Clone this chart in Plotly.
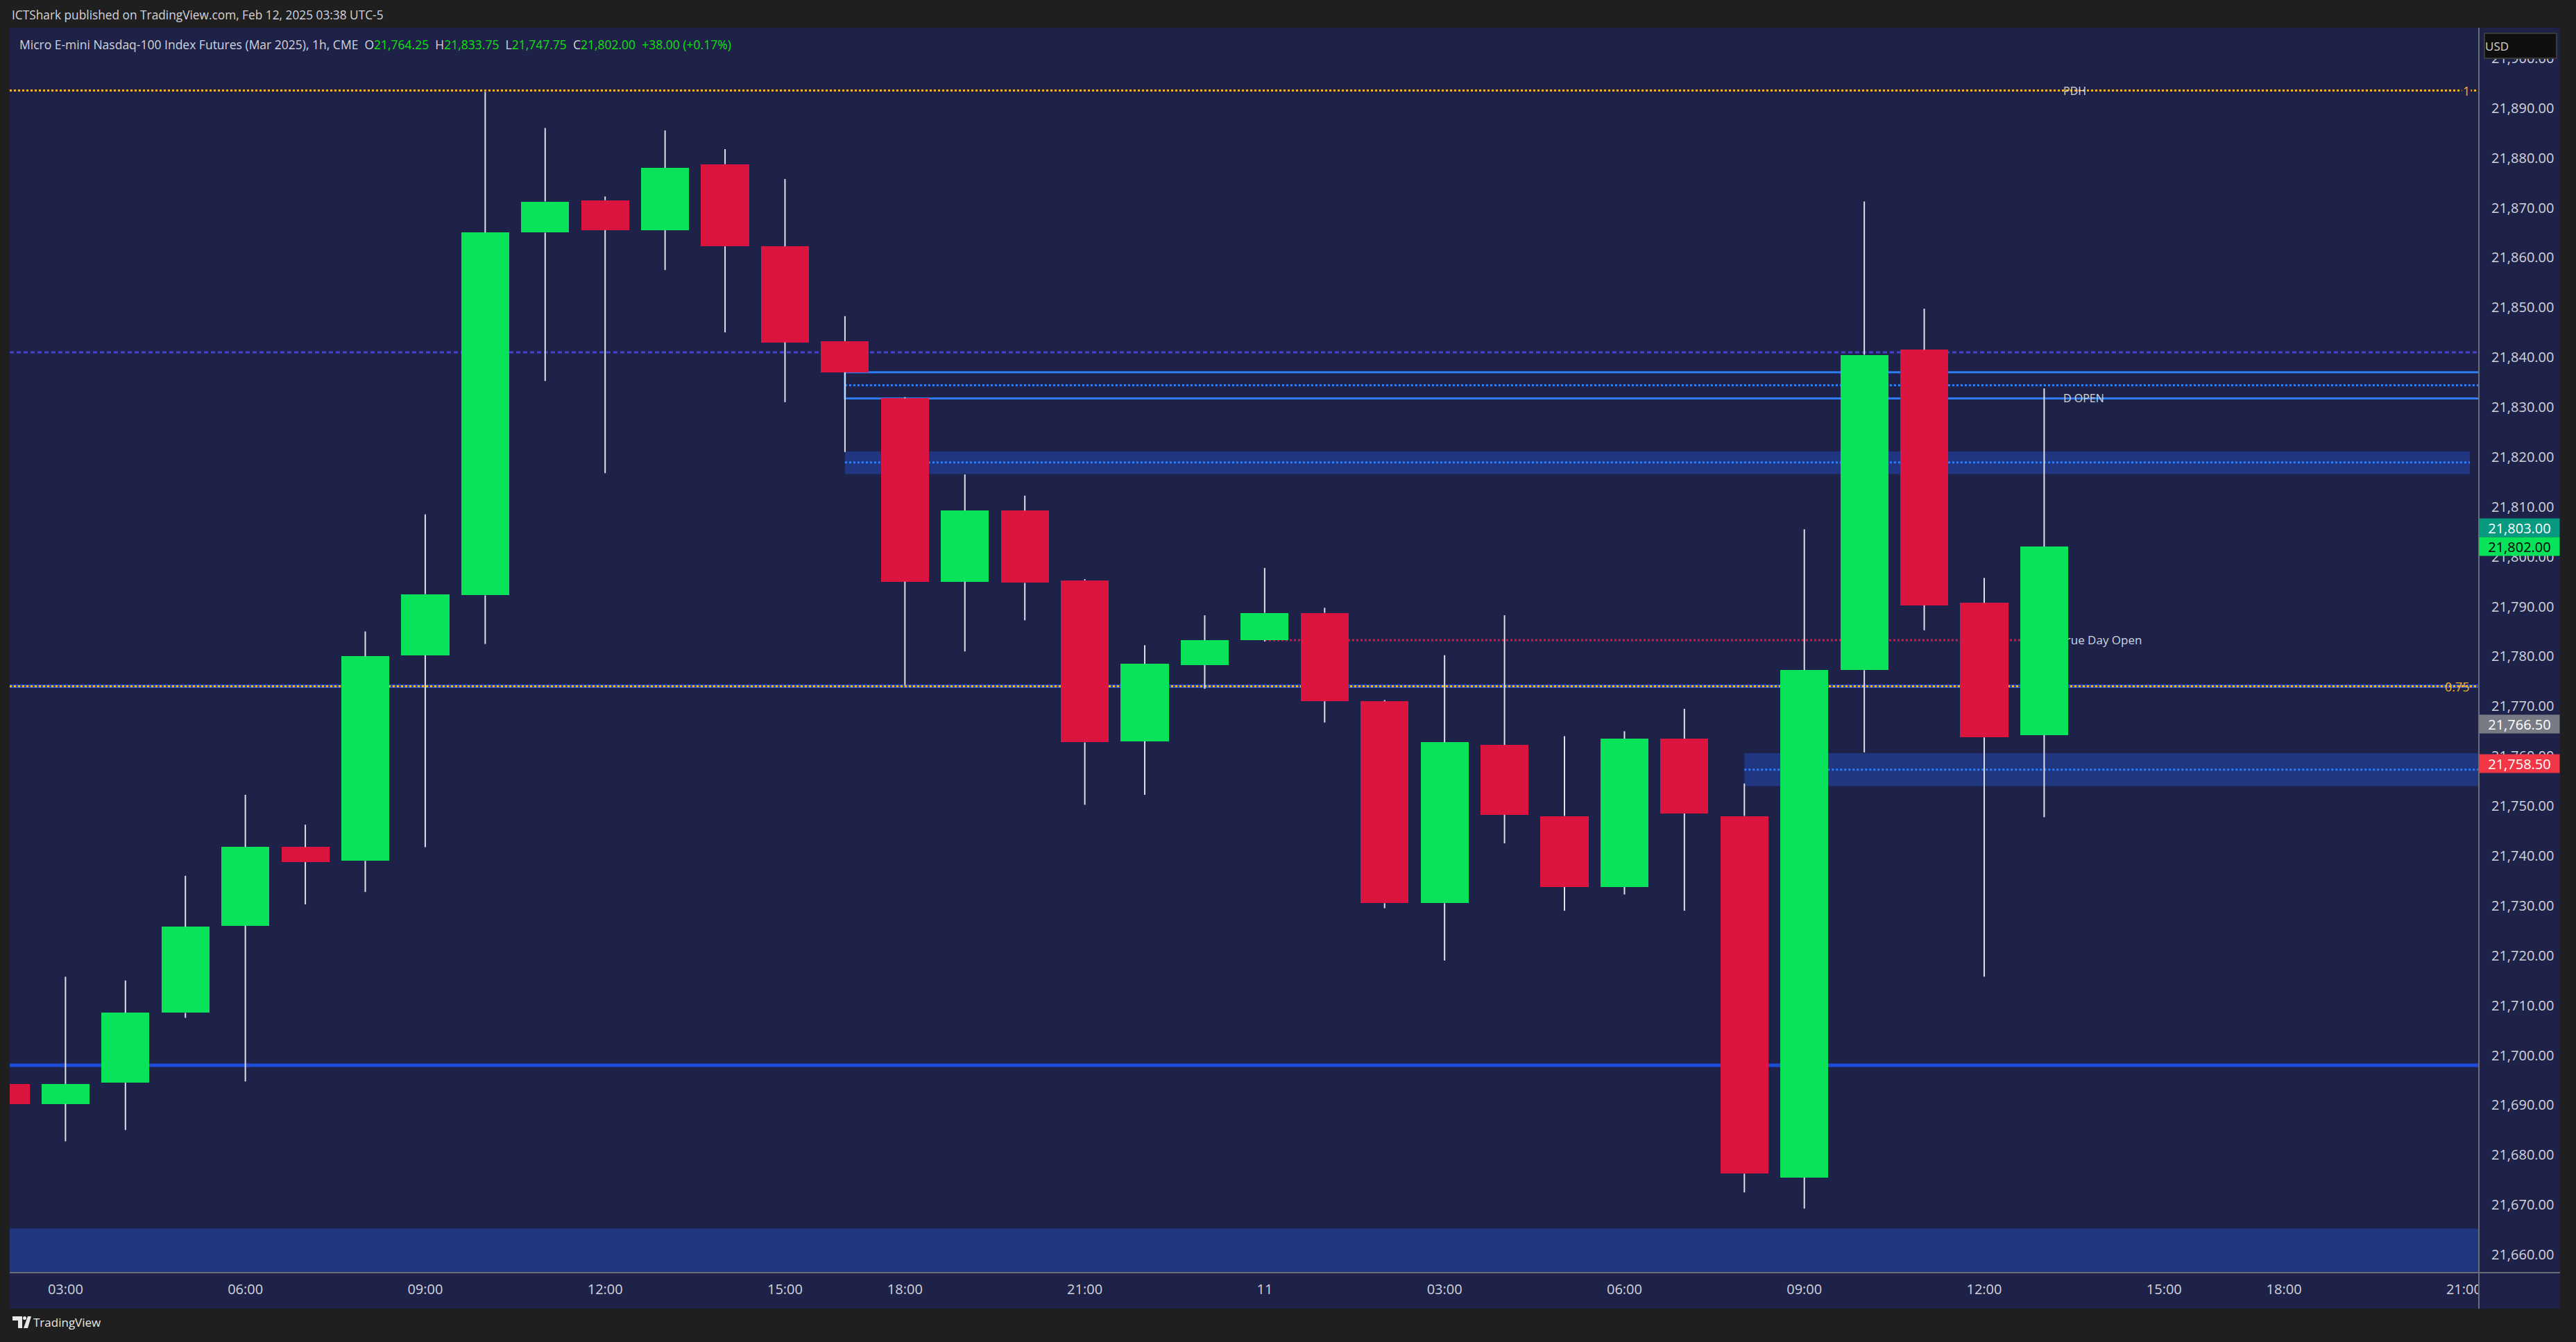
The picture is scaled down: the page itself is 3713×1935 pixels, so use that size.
import plotly.graph_objects as go

# ---------------- data ----------------
bar_labels = ["02:00", "03:00", "04:00", "05:00", "06:00", "07:00", "08:00", "09:00", "10:00", "11:00",
              "12:00", "13:00", "14:00", "15:00", "16:00", "18:00", "19:00", "20:00", "21:00", "22:00",
              "23:00", "00:00", "01:00", "02:00", "03:00", "04:00", "05:00", "06:00", "07:00", "08:00",
              "09:00", "10:00", "11:00", "12:00", "13:00"]
opens = [21694.25, 21690.25, 21694.5, 21708.5, 21726.0, 21741.75, 21739.0, 21780.25, 21792.25, 21865.0,
         21871.5, 21865.5, 21878.75, 21862.25, 21843.25, 21831.75, 21795.0, 21809.25, 21795.25, 21763.0,
         21778.25, 21783.25, 21788.75, 21771.0, 21730.5, 21762.25, 21748.0, 21733.75, 21763.5, 21748.0,
         21675.5, 21777.25, 21841.5, 21790.75, 21764.25]
highs = [21695.5, 21715.75, 21715.0, 21736.0, 21752.25, 21746.25, 21785.0, 21808.5, 21893.25, 21886.0,
         21872.25, 21885.5, 21881.75, 21875.75, 21848.25, 21832.0, 21816.5, 21812.25, 21795.5, 21782.25,
         21788.25, 21797.75, 21789.75, 21771.25, 21780.25, 21788.25, 21764.0, 21765.0, 21769.5, 21754.5,
         21805.5, 21871.25, 21849.75, 21795.75, 21833.75]
lows = [21689.0, 21682.75, 21685.0, 21707.5, 21694.75, 21730.25, 21732.75, 21741.75, 21782.5, 21835.25,
        21816.75, 21857.5, 21845.0, 21831.0, 21821.0, 21774.25, 21781.0, 21787.25, 21750.25, 21752.25,
        21773.5, 21783.0, 21766.75, 21729.5, 21719.0, 21742.5, 21729.0, 21732.25, 21729.0, 21672.5,
        21669.25, 21760.75, 21785.25, 21715.75, 21747.75]
closes = [21690.25, 21694.25, 21708.5, 21725.75, 21741.75, 21738.75, 21780.0, 21792.5, 21865.0, 21871.25,
          21865.5, 21878.0, 21862.25, 21843.0, 21837.0, 21795.0, 21809.25, 21794.75, 21762.75, 21778.5,
          21783.25, 21788.75, 21771.0, 21730.5, 21762.75, 21748.25, 21733.75, 21763.5, 21748.5, 21676.25,
          21777.25, 21840.5, 21790.25, 21763.75, 21802.0]

x_tick_pos = [1, 4, 7, 10, 13, 15, 18, 21, 24, 27, 30, 33, 36, 38, 41]
x_tick_text = ["03:00", "06:00", "09:00", "12:00", "15:00", "18:00", "21:00", "11",
               "03:00", "06:00", "09:00", "12:00", "15:00", "18:00", "21:00"]

# key levels
pdh = 21893.5
upper_dash = 21841.0
dopen_box = (21831.75, 21837.0)
dopen_mid = 21834.4
zone1 = (21816.6, 21821.1)
zone1_mid = 21818.9
true_day_open = 21783.25
fib_075 = 21774.0
zone2 = (21754.0, 21760.6)
zone2_mid = 21757.3
blue_level = 21698.0
bottom_zone_top = 21665.25

price_tags = [("21,803.00", 21802.0, "#089981", "#ffffff", 27),
              ("21,802.00", 21802.0, "#08e35a", "#000000", 0),
              ("21,766.50", 21766.5, "#787b86", "#ffffff", 0),
              ("21,758.50", 21758.5, "#f23645", "#ffffff", 0)]

header = "ICTShark published on TradingView.com, Feb 12, 2025 03:38 UTC-5"
symbol = "Micro E-mini Nasdaq-100 Index Futures (Mar 2025), 1h, CME"

# ---------------- geometry ----------------
W, H = 3713, 1935
ML, MT = 14, 40
PR, PB = 3573, 1835      # plot right / bottom in px
PANEL_R, PANEL_B = 3690, 1887
PW, PH = PR - ML, PB - MT
X_RANGE = [0.07, 41.25]
Y_RANGE = [21656.4, 21906.1]


def px(xp):
    return (xp - ML) / PW


def py(yp):
    return 1 - (yp - MT) / PH


GREEN = "#08e35a"
RED = "#dc1440"
BG = "#1e2248"
ZONE = "#203680"
LBLUE = "#2f7df5"
DBLUE = "#1e4bd8"
ORANGE = "#f0b429"
TXT = "#d1d4dc"
FONT = "Open Sans"

fig = go.Figure()

# wicks (upper and lower parts, so they never cross the bodies)
wx, wy = [], []
for i, (o, h, l, c) in enumerate(zip(opens, highs, lows, closes)):
    top, bot = max(o, c), min(o, c)
    if h > top:
        wx += [i, i, None]
        wy += [top, h, None]
    if l < bot:
        wx += [i, i, None]
        wy += [l, bot, None]
fig.add_trace(go.Scatter(x=wx, y=wy, mode="lines", line=dict(color="#dfe1e8", width=2),
                         hoverinfo="skip", showlegend=False))

# bodies
bases = [min(o, c) for o, c in zip(opens, closes)]
heights = [abs(c - o) for o, c in zip(opens, closes)]
colors = [GREEN if c >= o else RED for o, c in zip(opens, closes)]
fig.add_trace(go.Bar(x=list(range(len(opens))), y=heights, base=bases, width=0.8,
                     marker=dict(color=colors, line=dict(width=0)),
                     hoverinfo="skip", showlegend=False))

shapes = []


def hline(y, x0, x1, color, width, dash="solid", xref="x", layer="below"):
    shapes.append(dict(type="line", xref=xref, yref="y", x0=x0, x1=x1, y0=y, y1=y,
                       line=dict(color=color, width=width, dash=dash), layer=layer))


# zones
shapes.append(dict(type="rect", xref="paper", yref="y", x0=0, x1=1, y0=Y_RANGE[0] - 5, y1=bottom_zone_top,
                   fillcolor=ZONE, line=dict(width=0), layer="below"))
shapes.append(dict(type="rect", xref="x", yref="y", x0=14, x1=41.1, y0=zone1[0], y1=zone1[1],
                   fillcolor=ZONE, line=dict(width=0), layer="below"))
hline(zone1_mid, 14, 41.1, LBLUE, 3, "dot")
shapes.append(dict(type="rect", xref="x", yref="y", x0=29, x1=X_RANGE[1], y0=zone2[0], y1=zone2[1],
                   fillcolor=ZONE, line=dict(width=0), layer="below"))
hline(zone2_mid, 29, X_RANGE[1], LBLUE, 3, "dot")

# D OPEN box
shapes.append(dict(type="rect", xref="x", yref="y", x0=14, x1=X_RANGE[1] + 0.2, y0=dopen_box[0], y1=dopen_box[1],
                   line=dict(color=LBLUE, width=3), fillcolor="rgba(0,0,0,0)", layer="below"))
hline(dopen_mid, 14, X_RANGE[1], LBLUE, 3, "dot")

# full width levels
hline(upper_dash, 0, 1, "#4340d2", 3, "6px,4px", xref="paper")
hline(pdh, 0, 1, ORANGE, 3, "dot", xref="paper")
hline(fib_075, 0, 1, DBLUE, 5, xref="paper")
hline(fib_075, 0, 1, ORANGE, 3, "dot", xref="paper")
hline(blue_level, 0, 1, DBLUE, 5, xref="paper")
hline(true_day_open, 21, 34, RED, 3, "dot")

# True Day Open label (below candles so the bar covers its first letter like the original)
shapes.append(dict(type="rect", xref="x", yref="y", x0=34.22, x1=37.5, y0=true_day_open - 2,
                   y1=true_day_open + 2, line=dict(width=0), fillcolor="rgba(0,0,0,0)", layer="below",
                   label=dict(text="True Day Open", textposition="middle left",
                              font=dict(family=FONT, size=17, color=TXT), padding=0)))

# axis panel backgrounds / separators (paper)
shapes.append(dict(type="rect", xref="paper", yref="paper", x0=1, x1=px(PANEL_R), y0=py(PANEL_B), y1=1,
                   fillcolor=BG, line=dict(width=0), layer="below"))
shapes.append(dict(type="rect", xref="paper", yref="paper", x0=0, x1=1, y0=py(PANEL_B), y1=0,
                   fillcolor=BG, line=dict(width=0), layer="below"))
# cover strip to clip last x label
shapes.append(dict(type="rect", xref="paper", yref="paper", x0=px(PR + 1), x1=px(PANEL_R), y0=py(PANEL_B), y1=py(PB + 1),
                   fillcolor=BG, line=dict(width=0), layer="above"))
shapes.append(dict(type="line", xref="paper", yref="paper", x0=1, x1=1, y0=py(PANEL_B), y1=1,
                   line=dict(color="#6a6d78", width=2), layer="above"))
shapes.append(dict(type="line", xref="paper", yref="paper", x0=0, x1=px(PANEL_R), y0=0, y1=0,
                   line=dict(color="#6a6d78", width=2), layer="above"))

# TradingView logo (simple glyph)
shapes.append(dict(type="path", xref="paper", yref="paper",
                   path=f"M {px(18)},{py(1898)} L {px(32)},{py(1898)} L {px(32)},{py(1915)} L {px(26)},{py(1915)} "
                        f"L {px(26)},{py(1904)} L {px(18)},{py(1904)} Z",
                   fillcolor="#e8e8e8", line=dict(width=0)))
shapes.append(dict(type="circle", xref="paper", yref="paper", x0=px(33), x1=px(38), y0=py(1903), y1=py(1898),
                   fillcolor="#e8e8e8", line=dict(width=0)))
shapes.append(dict(type="path", xref="paper", yref="paper",
                   path=f"M {px(40)},{py(1898)} L {px(45)},{py(1898)} L {px(40)},{py(1915)} L {px(34)},{py(1915)} Z",
                   fillcolor="#e8e8e8", line=dict(width=0)))

annotations = []
annotations.append(dict(xref="paper", yref="paper", x=px(15), y=py(21), xanchor="left", yanchor="middle",
                        text=header, showarrow=False, font=dict(family=FONT, size=17.3, color=TXT)))
g = "#11e011"
title_html = (f"{symbol}&nbsp;&nbsp;O<span style='color:{g}'>21,764.25</span>&nbsp;&nbsp;"
              f"H<span style='color:{g}'>21,833.75</span>&nbsp;&nbsp;L<span style='color:{g}'>21,747.75</span>&nbsp;&nbsp;"
              f"C<span style='color:{g}'>21,802.00</span>&nbsp;&nbsp;<span style='color:{g}'>+38.00 (+0.17%)</span>")
annotations.append(dict(xref="paper", yref="paper", x=px(26), y=py(64), xanchor="left", yanchor="middle",
                        text=title_html, showarrow=False, font=dict(family=FONT, size=17.5, color=TXT)))
annotations.append(dict(xref="paper", yref="paper", x=px(46), y=py(1906), xanchor="left", yanchor="middle",
                        text="TradingView", showarrow=False, font=dict(family=FONT, size=17, color="#e8e8e8")))

# level labels
annotations.append(dict(xref="x", yref="y", x=34.3, y=pdh, xanchor="left", yanchor="middle", text="PDH",
                        showarrow=False, font=dict(family=FONT, size=16, color=TXT)))
annotations.append(dict(xref="x", yref="y", x=34.3, y=dopen_box[0], xanchor="left", yanchor="middle",
                        text="D OPEN", showarrow=False, font=dict(family=FONT, size=16, color=TXT)))
annotations.append(dict(xref="paper", yref="y", x=px(3562), y=pdh, xanchor="right", yanchor="middle", text="1",
                        showarrow=False, bgcolor=BG, font=dict(family=FONT, size=18, color=ORANGE)))
annotations.append(dict(xref="paper", yref="y", x=px(3562), y=fib_075, xanchor="right", yanchor="middle",
                        text="0.75", showarrow=False, font=dict(family=FONT, size=18, color=ORANGE)))

# price tags
for txt, yv, bg, fc, ys in price_tags:
    annotations.append(dict(xref="paper", yref="y", x=1, y=yv, yshift=ys, xanchor="left", yanchor="middle",
                            text=txt, showarrow=False, bgcolor=bg, width=115, height=26, borderpad=0,
                            align="center", font=dict(family=FONT, size=20, color=fc)))
# USD box
annotations.append(dict(xref="paper", yref="paper", x=px(3580), y=py(66), xanchor="left", yanchor="middle",
                        text="USD", showarrow=False, bgcolor="#0f0f0f", bordercolor="#3a3a3a", borderwidth=2,
                        width=102, height=34, align="left", borderpad=0,
                        font=dict(family=FONT, size=17, color=TXT)))

fig.update_layout(
    width=W, height=H,
    margin=dict(l=ML, r=W - PR, t=MT, b=H - PB, pad=0),
    paper_bgcolor="#1f1f1f", plot_bgcolor=BG,
    showlegend=False, hovermode=False, bargap=0,
    shapes=shapes, annotations=annotations,
    xaxis=dict(range=X_RANGE, tickvals=x_tick_pos, ticktext=x_tick_text, showgrid=False, zeroline=False,
               ticks="", showline=False, ticklabelstandoff=10,
               tickfont=dict(family=FONT, size=20, color=TXT), fixedrange=True),
    yaxis=dict(range=Y_RANGE, side="right", tick0=21660, dtick=10, tickformat=",.2f", showgrid=False,
               zeroline=False, ticks="", showline=False, ticklabelstandoff=17,
               tickfont=dict(family=FONT, size=20, color=TXT), fixedrange=True),
)

fig.write_html("out.html", config={"displayModeBar": False},
               post_script="document.body.style.margin='0';document.body.style.backgroundColor='#1f1f1f';")
